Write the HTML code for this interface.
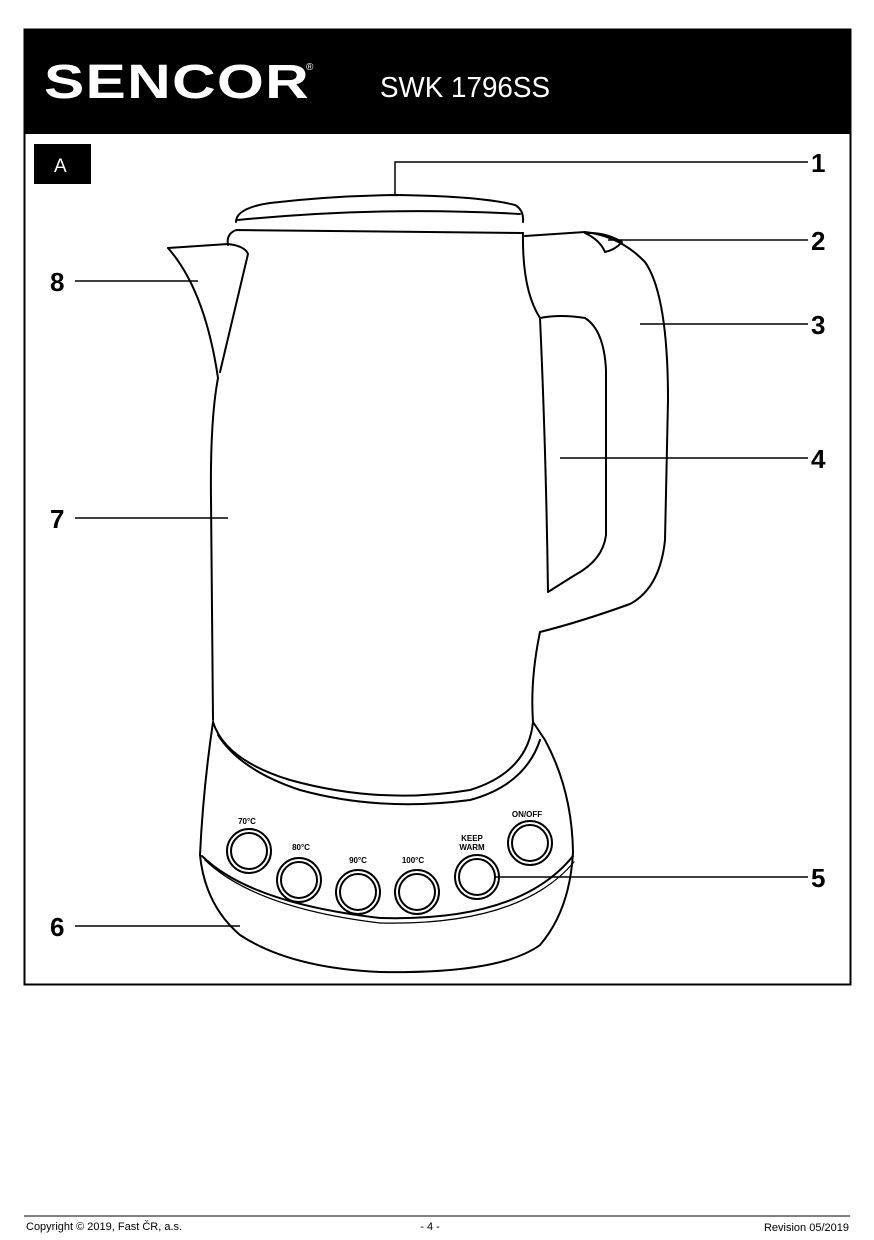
<!DOCTYPE html>
<html><head><meta charset="utf-8"><style>
html,body{margin:0;padding:0;background:#fff;}
svg{display:block;}
</style></head><body>
<svg width="874" height="1240" viewBox="0 0 874 1240" xmlns="http://www.w3.org/2000/svg" font-family="Liberation Sans, sans-serif">
<rect x="24.5" y="29.5" width="826" height="955" fill="none" stroke="#000" stroke-width="2"/>
<rect x="24" y="29" width="827" height="105" fill="#000"/>
<text x="44" y="98" fill="#fff" font-size="48" font-weight="bold" letter-spacing="1" textLength="266" lengthAdjust="spacingAndGlyphs">SENCOR</text>
<text x="306" y="70" fill="#fff" font-size="10">®</text>
<text x="380" y="97" fill="#fff" font-size="29" textLength="170" lengthAdjust="spacingAndGlyphs">SWK 1796SS</text>
<rect x="34" y="144" width="57" height="40" fill="#000"/>
<text x="54" y="172" fill="#fff" font-size="19">A</text>

<g fill="none" stroke="#000" stroke-width="2" stroke-linejoin="round" stroke-linecap="round">
<!-- lid -->
<path d="M236,222 Q236,208 270,203 Q330,196 395,195 Q480,196 515,205 Q524,210 523,222"/>
<path d="M238,220 Q380,206 520,214"/>
<!-- rim -->
<path d="M228,245 Q226,234 236,230 L523,233"/>
<!-- spout -->
<path d="M168,248 L228,244 Q245,246 248,254 L220,372"/>
<path d="M168,248 Q205,290 218,378"/>
<!-- body left -->
<path d="M218,378 Q210,420 211,500 L213,720"/>
<!-- body right above handle -->
<path d="M523,233 Q522,290 540,318"/>
<!-- handle inner -->
<path d="M540,318 Q560,314 585,318 Q604,330 606,370 L606,535 Q603,560 575,575 L548,592 Q546,450 540,318"/>
<!-- handle outer -->
<path d="M525,236 L585,232 Q620,236 645,262 Q668,295 668,400 L665,540 Q660,588 630,604 Q580,622 540,632 Q530,680 533,722"/>
<!-- button 2 -->
<path d="M585,233 Q600,240 605,252 Q615,250 622,242 Q605,232 585,233"/>
<!-- base top -->
<path d="M213,722 Q225,760 290,780 Q380,805 470,790 Q528,772 533,722"/>
<path d="M218,735 Q240,770 300,790 Q380,812 470,800 Q525,785 540,740"/>
<!-- base sides -->
<path d="M213,722 Q203,790 200,855 Q205,905 240,935 Q290,968 380,972 Q500,974 540,945 Q570,910 573,852 Q572,790 545,740 L533,722"/>
<path d="M202,856 Q250,903 380,918 Q520,922 573,856"/>
<path d="M205,860 Q255,908 380,923 Q520,926 574,862" stroke-width="1.3"/>
</g>
<g fill="none" stroke="#000" stroke-width="2">
<circle cx="249" cy="851" r="22"/><circle cx="249" cy="851" r="18"/>
<circle cx="299" cy="880" r="22"/><circle cx="299" cy="880" r="18"/>
<circle cx="358" cy="892" r="22"/><circle cx="358" cy="892" r="18"/>
<circle cx="417" cy="892" r="22"/><circle cx="417" cy="892" r="18"/>
<circle cx="477" cy="877" r="22"/><circle cx="477" cy="877" r="18"/>
<circle cx="530" cy="843" r="22"/><circle cx="530" cy="843" r="18"/>
</g>
<g font-size="8" font-weight="bold" text-anchor="middle">
<text x="247" y="824">70°C</text>
<text x="301" y="850">80°C</text>
<text x="358" y="863">90°C</text>
<text x="413" y="863">100°C</text>
<text x="472" y="841">KEEP</text>
<text x="472" y="850">WARM</text>
<text x="527" y="817">ON/OFF</text>
</g>
<!-- leaders -->
<g stroke="#000" stroke-width="1.5" fill="none">
<path d="M395,195 L395,162 L808,162"/>
<path d="M608,240 L808,240"/>
<path d="M640,324 L808,324"/>
<path d="M560,458 L808,458"/>
<path d="M495,877 L808,877"/>
<path d="M75,926 L240,926"/>
<path d="M75,518 L228,518"/>
<path d="M75,281 L198,281"/>
</g>
<g font-size="26" font-weight="bold">
<text x="811" y="172">1</text>
<text x="811" y="250">2</text>
<text x="811" y="334">3</text>
<text x="811" y="468">4</text>
<text x="811" y="887">5</text>
<text x="50" y="936">6</text>
<text x="50" y="528">7</text>
<text x="50" y="291">8</text>
</g>
<line x1="24" y1="1216" x2="850" y2="1216" stroke="#000" stroke-width="1"/>
<text x="26" y="1230" font-size="11">Copyright © 2019, Fast ČR, a.s.</text>
<text x="430" y="1230" font-size="11" text-anchor="middle">- 4 -</text>
<text x="849" y="1231" font-size="11" text-anchor="end">Revision 05/2019</text>
</svg>
</body></html>
